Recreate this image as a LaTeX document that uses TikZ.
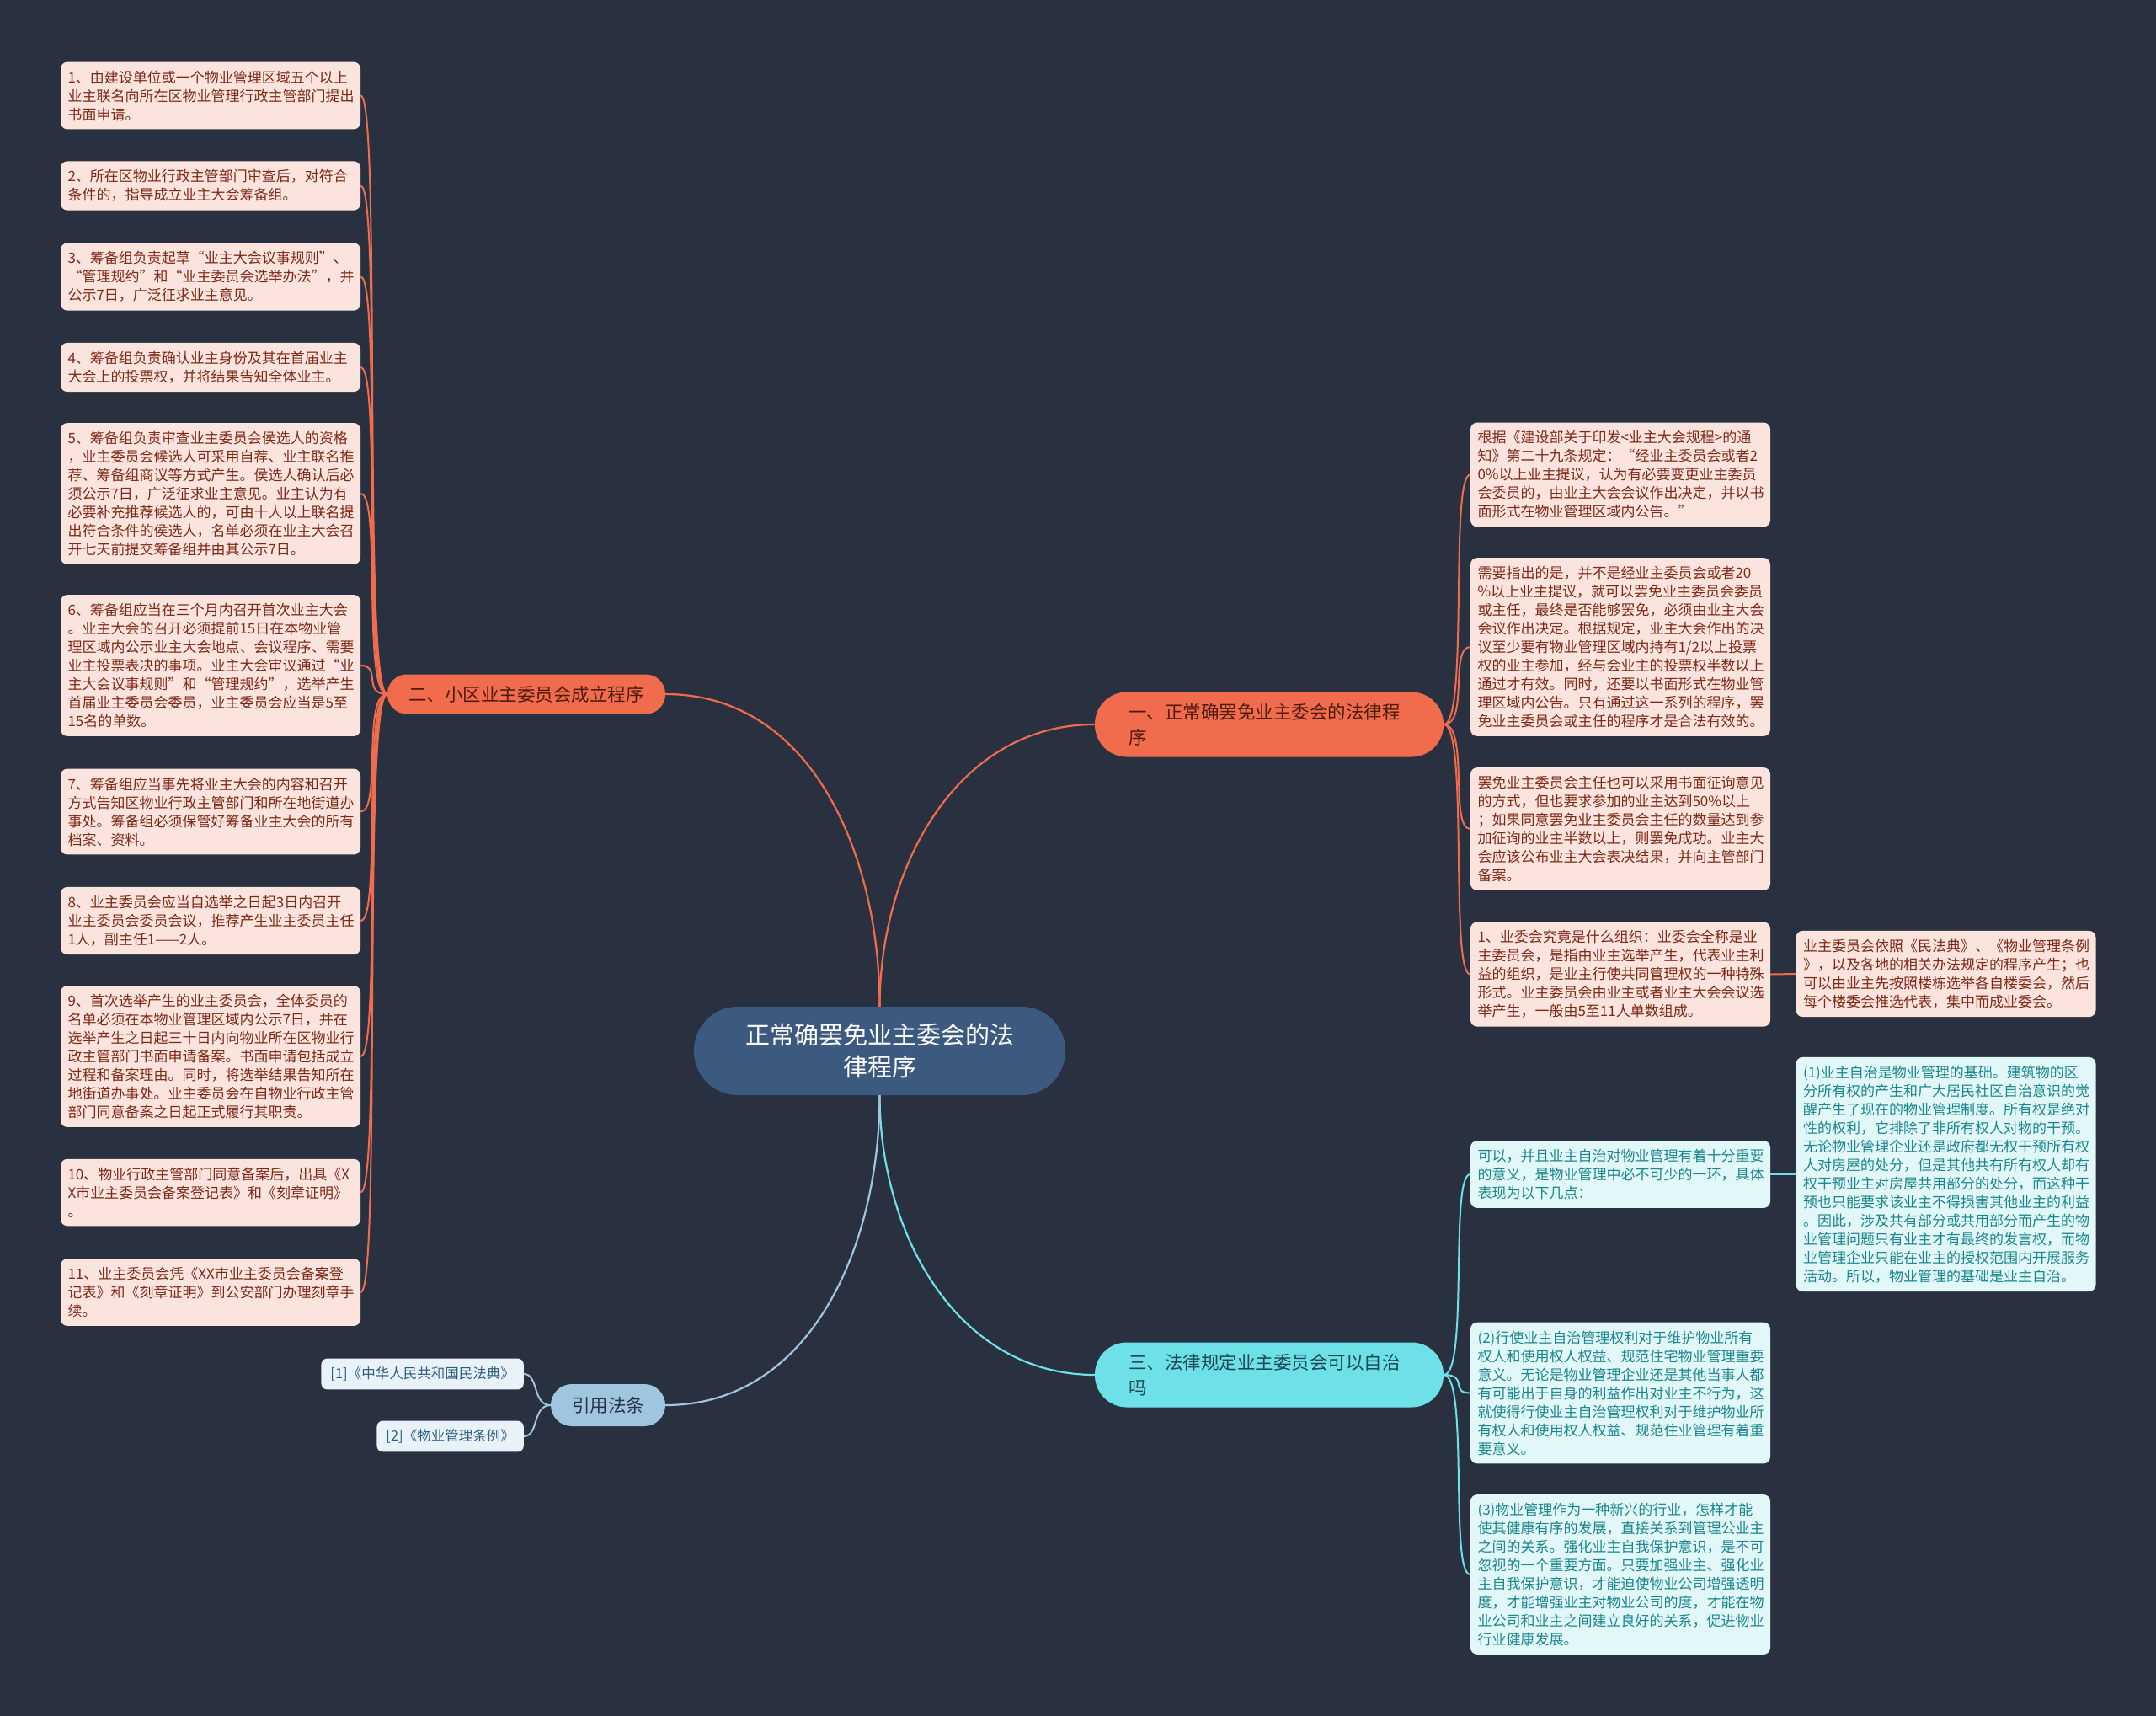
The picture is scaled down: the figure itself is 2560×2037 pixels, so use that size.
\documentclass[tikz,border=0pt]{standalone}
\usepackage{fontspec}
\setmainfont{Noto Sans CJK SC}
\definecolor{bgcol}{HTML}{293140}
\definecolor{rootfill}{HTML}{3C5A7F}
\definecolor{orangefill}{HTML}{F06C4C}
\definecolor{orangetxt}{HTML}{4E1B0E}
\definecolor{cyanfill}{HTML}{6EE0E7}
\definecolor{cyantxt}{HTML}{1C4954}
\definecolor{bluefill}{HTML}{9FC6DE}
\definecolor{bluetxt}{HTML}{233449}
\definecolor{redleaffill}{HTML}{FCE4DE}
\definecolor{redleaftxt}{HTML}{7D2A19}
\definecolor{cyanleaffill}{HTML}{E1F7F8}
\definecolor{cyanleaftxt}{HTML}{1B868D}
\definecolor{refleaffill}{HTML}{E9F2F8}
\definecolor{refleaftxt}{HTML}{2E5F80}
\begin{document}
\begin{tikzpicture}[x=1pt,y=-1pt,
    leafbox/.style={rectangle, rounded corners=8pt, inner xsep=8.5pt, inner ysep=10pt, text width=339pt, align=left, font=\fontsize{17}{22}\selectfont},
    redleaf/.style={leafbox, fill=redleaffill, text=redleaftxt},
    cyanleaf/.style={leafbox, fill=cyanleaffill, text=cyanleaftxt},
    refleaf/.style={rectangle, rounded corners=7pt, inner xsep=11pt, inner ysep=10pt, fill=refleaffill, text=refleaftxt, font=\fontsize{16.5}{20}\selectfont},
    branchbox/.style={rectangle, inner sep=0pt, font=\fontsize{21.5}{30}\selectfont},
    orangeline/.style={draw=orangefill, line width=2.2pt},
    cyanline/.style={draw=cyanfill, line width=2.2pt},
    blueline/.style={draw=bluefill, line width=2.2pt}]
    \fill[bgcol] (0,0) rectangle (2560,2037);
    \useasboundingbox (0,0) rectangle (2560,2037);

    % 中心主题
    \node[rectangle, rounded corners=52pt, fill=rootfill, text=white, minimum width=441pt, minimum height=105pt, inner sep=0pt, align=center, font=\fontsize{29}{38}\selectfont] (root) at (1044.5,1247.5) {正常确罢免业主委会的法\\律程序};

    % 分支
    \node[branchbox, fill=orangefill, text=orangetxt, rounded corners=38pt, text width=334pt, inner xsep=40pt, minimum height=77pt, align=left] (b1) at (1507,860) {一、正常确罢免业主委会的法律程\\序};
    \node[branchbox, fill=orangefill, text=orangetxt, rounded corners=23pt, minimum width=330pt, minimum height=47pt] (b2) at (625,824) {二、小区业主委员会成立程序};
    \node[branchbox, fill=cyanfill, text=cyantxt, rounded corners=38pt, text width=334pt, inner xsep=40pt, minimum height=77pt, align=left] (b3) at (1507,1632) {三、法律规定业主委员会可以自治\\吗};
    \node[branchbox, fill=bluefill, text=bluetxt, rounded corners=25pt, minimum width=136pt, minimum height=50pt] (b4) at (722,1668) {引用法条};

    % 二、成立程序
    \node[redleaf] (l1) at (250,113.5) {1、由建设单位或一个物业管理区域五个以上\\业主联名向所在区物业管理行政主管部门提出\\书面申请。};
    \node[redleaf] (l2) at (250,220.5) {2、所在区物业行政主管部门审查后，对符合\\条件的，指导成立业主大会筹备组。};
    \node[redleaf] (l3) at (250,328.5) {3、筹备组负责起草“业主大会议事规则”、\\“管理规约”和“业主委员会选举办法”，并\\公示7日，广泛征求业主意见。};
    \node[redleaf] (l4) at (250,436) {4、筹备组负责确认业主身份及其在首届业主\\大会上的投票权，并将结果告知全体业主。};
    \node[redleaf] (l5) at (250,586) {5、筹备组负责审查业主委员会侯选人的资格\\，业主委员会候选人可采用自荐、业主联名推\\荐、筹备组商议等方式产生。侯选人确认后必\\须公示7日，广泛征求业主意见。业主认为有\\必要补充推荐候选人的，可由十人以上联名提\\出符合条件的侯选人，名单必须在业主大会召\\开七天前提交筹备组并由其公示7日。};
    \node[redleaf] (l6) at (250,790) {6、筹备组应当在三个月内召开首次业主大会\\。业主大会的召开必须提前15日在本物业管\\理区域内公示业主大会地点、会议程序、需要\\业主投票表决的事项。业主大会审议通过“业\\主大会议事规则”和“管理规约”，选举产生\\首届业主委员会委员，业主委员会应当是5至\\15名的单数。};
    \node[redleaf] (l7) at (250,963.5) {7、筹备组应当事先将业主大会的内容和召开\\方式告知区物业行政主管部门和所在地街道办\\事处。筹备组必须保管好筹备业主大会的所有\\档案、资料。};
    \node[redleaf] (l8) at (250,1093) {8、业主委员会应当自选举之日起3日内召开\\业主委员会委员会议，推荐产生业主委员主任\\1人，副主任1——2人。};
    \node[redleaf] (l9) at (250,1254) {9、首次选举产生的业主委员会，全体委员的\\名单必须在本物业管理区域内公示7日，并在\\选举产生之日起三十日内向物业所在区物业行\\政主管部门书面申请备案。书面申请包括成立\\过程和备案理由。同时，将选举结果告知所在\\地街道办事处。业主委员会在自物业行政主管\\部门同意备案之日起正式履行其职责。};
    \node[redleaf] (l10) at (250,1415.5) {10、物业行政主管部门同意备案后，出具《X\\X市业主委员会备案登记表》和《刻章证明》\\。};
    \node[redleaf] (l11) at (250,1534) {11、业主委员会凭《XX市业主委员会备案登\\记表》和《刻章证明》到公安部门办理刻章手\\续。};

    % 一、罢免程序
    \node[redleaf] (ra) at (1924,563.5) {根据《建设部关于印发<业主大会规程>的通\\知》第二十九条规定：“经业主委员会或者2\\0\%以上业主提议，认为有必要变更业主委员\\会委员的，由业主大会会议作出决定，并以书\\面形式在物业管理区域内公告。”};
    \node[redleaf] (rb) at (1924,768) {需要指出的是，并不是经业主委员会或者20\\\%以上业主提议，就可以罢免业主委员会委员\\或主任，最终是否能够罢免，必须由业主大会\\会议作出决定。根据规定，业主大会作出的决\\议至少要有物业管理区域内持有1/2以上投票\\权的业主参加，经与会业主的投票权半数以上\\通过才有效。同时，还要以书面形式在物业管\\理区域内公告。只有通过这一系列的程序，罢\\免业主委员会或主任的程序才是合法有效的。};
    \node[redleaf] (rc) at (1924,984) {罢免业主委员会主任也可以采用书面征询意见\\的方式，但也要求参加的业主达到50\%以上\\；如果同意罢免业主委员会主任的数量达到参\\加征询的业主半数以上，则罢免成功。业主大\\会应该公布业主大会表决结果，并向主管部门\\备案。};
    \node[redleaf] (rd) at (1924,1156.5) {1、业委会究竟是什么组织：业委会全称是业\\主委员会，是指由业主选举产生，代表业主利\\益的组织，是业主行使共同管理权的一种特殊\\形式。业主委员会由业主或者业主大会会议选\\举产生，一般由5至11人单数组成。};
    \node[redleaf] (rd1) at (2310.5,1156) {业主委员会依照《民法典》、《物业管理条例\\》，以及各地的相关办法规定的程序产生；也\\可以由业主先按照楼栋选举各自楼委会，然后\\每个楼委会推选代表，集中而成业委会。};

    % 三、自治
    \node[cyanleaf] (re) at (1924,1394) {可以，并且业主自治对物业管理有着十分重要\\的意义，是物业管理中必不可少的一环，具体\\表现为以下几点：};
    \node[cyanleaf] (re1) at (2310.5,1394) {(1)业主自治是物业管理的基础。建筑物的区\\分所有权的产生和广大居民社区自治意识的觉\\醒产生了现在的物业管理制度。所有权是绝对\\性的权利，它排除了非所有权人对物的干预。\\无论物业管理企业还是政府都无权干预所有权\\人对房屋的处分，但是其他共有所有权人却有\\权干预业主对房屋共用部分的处分，而这种干\\预也只能要求该业主不得损害其他业主的利益\\。因此，涉及共有部分或共用部分而产生的物\\业管理问题只有业主才有最终的发言权，而物\\业管理企业只能在业主的授权范围内开展服务\\活动。所以，物业管理的基础是业主自治。};
    \node[cyanleaf] (rg) at (1924,1653.5) {(2)行使业主自治管理权利对于维护物业所有\\权人和使用权人权益、规范住宅物业管理重要\\意义。无论是物业管理企业还是其他当事人都\\有可能出于自身的利益作出对业主不行为，这\\就使得行使业主自治管理权利对于维护物业所\\有权人和使用权人权益、规范住业管理有着重\\要意义。};
    \node[cyanleaf] (rh) at (1924,1869) {(3)物业管理作为一种新兴的行业，怎样才能\\使其健康有序的发展，直接关系到管理公业主\\之间的关系。强化业主自我保护意识，是不可\\忽视的一个重要方面。只要加强业主、强化业\\主自我保护意识，才能迫使物业公司增强透明\\度，才能增强业主对物业公司的度，才能在物\\业公司和业主之间建立良好的关系，促进物业\\行业健康发展。};

    % 引用法条
    \node[refleaf, anchor=east] (ref1) at (622,1631) {[1]《中华人民共和国民法典》};
    \node[refleaf, anchor=east] (ref2) at (622,1705) {[2]《物业管理条例》};

    % 连线
    \draw[orangeline] (root.north) to[out=90, in=180] (b1.west);
    \draw[orangeline] (root.north) to[out=90, in=0] (b2.east);
    \draw[cyanline] (root.south) to[out=-90, in=180] (b3.west);
    \draw[blueline] (root.south) to[out=-90, in=0] (b4.east);
    \foreach \n in {l1,l2,l3,l4,l5,l6,l7,l8,l9,l10,l11}
        \draw[orangeline, line width=2pt] (b2.west) .. controls +(-30,0) and +(25,0) .. (\n.east);
    \foreach \n in {ra,rb,rc,rd}
        \draw[orangeline, line width=2pt] (b1.east) .. controls +(30,0) and +(-25,0) .. (\n.west);
    \foreach \n in {re,rg,rh}
        \draw[cyanline, line width=2pt] (b3.east) .. controls +(30,0) and +(-25,0) .. (\n.west);
    \foreach \n in {ref1,ref2}
        \draw[blueline, line width=2pt] (b4.west) .. controls +(-22,0) and +(18,0) .. (\n.east);
    \draw[orangeline, line width=2pt] (rd.east) -- (rd1.west);
    \draw[cyanline, line width=2pt] (re.east) -- (re1.west);
\end{tikzpicture}
\end{document}
